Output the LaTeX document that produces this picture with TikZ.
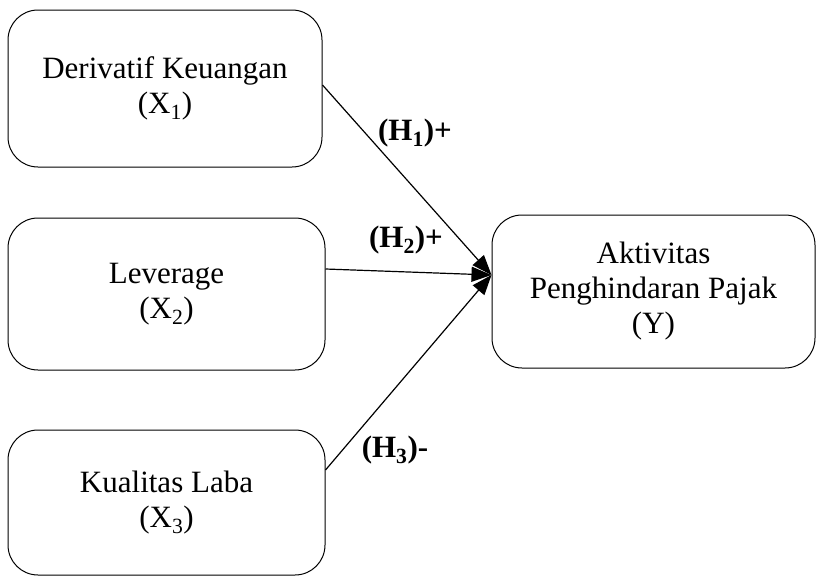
\documentclass[tikz,border=0pt]{standalone}
\usepackage{fontspec}
\setmainfont{Liberation Serif}
\usepackage{tikz}
\usetikzlibrary{arrows.meta}

\begin{document}
\begin{tikzpicture}
    [x=1pt,y=-1pt,
    font=\fontsize{31}{35}\selectfont,
    box/.style={shape=rectangle,draw=black,rounded corners=30pt,align=center,line width=1pt,
      execute at begin node={\rule{0pt}{54pt}}},
    hyp/.style={font=\fontsize{31}{35}\selectfont\bfseries},
    arc/.style={-{Triangle[length=20pt,width=15pt]},line width=1.2pt}]

    \useasboundingbox (0,0) rectangle (817,576);

    \node (x1) [box,minimum width=314pt,minimum height=157pt] at (165,88.5) {Derivatif Keuangan\\(X\textsubscript{1})};
    \node (x2) [box,minimum width=317pt,minimum height=152pt] at (166.5,294) {Leverage\\(X\textsubscript{2})};
    \node (x3) [box,minimum width=317pt,minimum height=145pt] at (166.5,502.5) {Kualitas Laba\\(X\textsubscript{3})};
    \node (y) [box,minimum width=323pt,minimum height=153pt] at (653.5,291.5) {Aktivitas\\Penghindaran Pajak\\(Y)};

    \coordinate (yin) at ([yshift=16.5pt]y.west);

    \draw [arc] ([yshift=3.5pt]x1.east) -- (yin);
    \draw [arc] ([yshift=25pt]x2.east) -- (yin);
    \draw [arc] ([yshift=32.5pt]x3.east) -- (yin);

    \node (h1) [hyp] at (415,133) {(H\textsubscript{1})+};
    \node (h2) [hyp] at (406,240) {(H\textsubscript{2})+};
    \node (h3) [hyp] at (395,450) {(H\textsubscript{3})-};

\end{tikzpicture}
\end{document}
